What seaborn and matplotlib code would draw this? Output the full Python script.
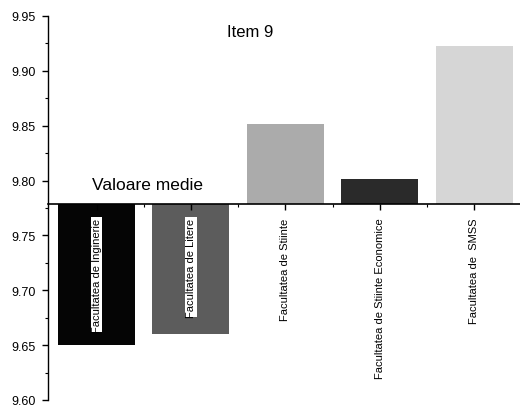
import matplotlib
matplotlib.use("Agg")
import matplotlib.pyplot as plt
import seaborn as sns
import numpy as np
import pandas as pd
from matplotlib.ticker import MultipleLocator

categories = ["Facultatea de Inginerie", "Facultatea de Litere", "Facultatea de Stiinte",
              "Facultatea de Stiinte Economice", "Facultatea de  SMSS"]
values = [9.650, 9.660, 9.852, 9.801, 9.923]
baseline = 9.779
bar_colors = ["#050505", "#5c5c5c", "#ababab", "#2a2a2a", "#d6d6d6"]
title_text = "Item 9"
baseline_label = "Valoare medie"

sns.set_style("ticks")
plt.rcParams['font.family'] = ['Liberation Sans', 'DejaVu Sans']
plt.rcParams['text.color'] = 'black'

df = pd.DataFrame({"cat": categories, "delta": np.array(values) - baseline})

fig = plt.figure(figsize=(5.2, 4.1), dpi=100)
ax = fig.add_axes([48/520, 1 - 401/410, 1 - 48/520, (401 - 17)/410])

sns.barplot(data=df, x="cat", y="delta", hue="cat", palette=bar_colors, legend=False,
            width=0.815, bottom=baseline, saturation=1, edgecolor="none", ax=ax)

ax.set_ylim(9.60, 9.95)
ax.set_xlim(-0.514, 4.486)
ax.yaxis.set_major_locator(MultipleLocator(0.05))
ax.yaxis.set_minor_locator(MultipleLocator(0.025))
ax.yaxis.set_major_formatter(matplotlib.ticker.FormatStrFormatter("%.2f"))
ax.set_xlabel("")
ax.set_ylabel("")

for s in ["top", "right"]:
    ax.spines[s].set_visible(False)
ax.spines["bottom"].set_position(("data", baseline))
ax.spines["bottom"].set_linewidth(1.2)
ax.spines["left"].set_linewidth(1.0)
ax.spines["bottom"].set_color("black")
ax.spines["left"].set_color("black")
ax.set_axisbelow(False)

ax.tick_params(axis="y", which="major", length=4, width=1, labelsize=9, pad=5, colors="black")
ax.tick_params(axis="y", which="minor", length=2.5, width=0.8, colors="black")
ax.tick_params(axis="x", which="major", length=4, width=1, pad=6, colors="black",
               labelsize=8, labelrotation=90)
ax.tick_params(axis="x", which="minor", length=2.5, width=0.8, colors="black")

ax.set_xticks(range(len(categories)))
ax.set_xticks(np.arange(len(categories) - 1) + 0.5, minor=True)
ax.set_xticklabels(categories, rotation=90, fontsize=8, va="top", ha="center", color="black")
for lab in ax.get_xticklabels():
    lab.set_rotation(90)
    lab.set_bbox(dict(facecolor="white", edgecolor="none", pad=0.5))

ax.text(1.63, 9.936, title_text, ha="center", va="center", fontsize=12, color="black")
ax.text(0.535, 9.792, baseline_label, ha="center", va="baseline", fontsize=12.5, color="black")

fig.savefig("out.png", dpi=100)
